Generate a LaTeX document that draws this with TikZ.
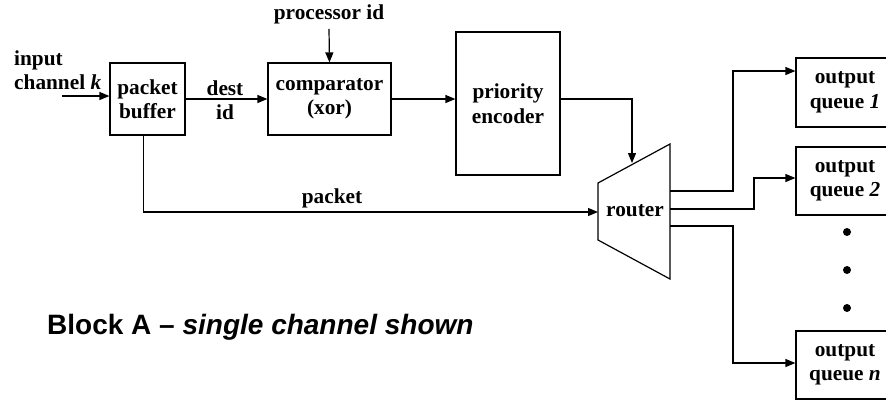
\documentclass[tikz,border=0pt]{standalone}
\usepackage{fontspec}
\setmainfont{Liberation Serif}
\setsansfont{Liberation Sans}
\usetikzlibrary{arrows.meta}
\begin{document}
\begin{tikzpicture}[x=1pt,y=-1pt,
  every node/.style={font=\fontsize{21.3}{24.5}\selectfont\bfseries},
  blk/.style={draw,line width=1.2pt,inner sep=0pt,align=center},
  lbl/.style={inner sep=0pt,align=center},
  arr/.style={line width=1.2pt,-{Triangle[length=10pt,width=8pt]}},
  ln/.style={line width=1.2pt}]
\useasboundingbox (0,0) rectangle (886,400);
\begin{scope}
\clip (0,0) rectangle (886,400);
% blocks
\node[blk,minimum width=75pt,minimum height=72pt] (pb) at (147.5,99) {packet\\buffer};
\node[blk,minimum width=123pt,minimum height=72pt] (comp) at (329.5,99) {comparator\\(xor)};
\node[blk,minimum width=104pt,minimum height=143pt] (prio) at (508,103.5) {priority\\encoder};
\node[blk,minimum width=98pt,minimum height=69pt] (q1) at (845,92.5) {output\\queue \textit{1}};
\node[blk,minimum width=98pt,minimum height=68pt] (q2) at (845,181) {output\\queue \textit{2}};
\node[blk,minimum width=98pt,minimum height=68pt] (qn) at (845,365) {output\\queue \textit{n}};
% router
\coordinate (r1) at (598,183);
\coordinate (r2) at (670,144);
\coordinate (r3) at (670,279);
\coordinate (r4) at (598,240);
\draw[ln] (r1) -- (r2) -- (r3) -- (r4) -- cycle;
\node[lbl] (router) at (635,211) {router};
\coordinate (rin) at (598,212);
\coordinate (rtop) at (632,163);
\coordinate (ro1) at (670,191);
\coordinate (ro2) at (670,209);
\coordinate (ro3) at (670,226);
% labels
\node[lbl,anchor=west,align=left] (inlbl) at (14,70) {input\\channel \textit{k}};
\coordinate (inp) at (62,96);
\node[lbl] (procid) at (329,14) {processor id};
\node[lbl] (dest) at (225,100) {dest\\id};
\node[lbl] (pkt) at (332,198) {packet};
% dots
\fill (847,232) circle (4);
\fill (847,270) circle (4);
\fill (847,308) circle (4);
% connectors
\draw[arr] (inp) -- (inp -| pb.west);
\draw[arr] (pb.east) -- (comp.west);
\draw[arr] (procid.south) ++(0,5) -- (comp.north);
\draw[arr] (comp.east) -- (comp.east -| prio.west);
\draw[arr] (comp.east -| prio.east) -| (rtop);
\draw[arr] ([xshift=-4pt]pb.south) |- (rin);
\draw[arr] (ro1) -- ++(63,0) |- ([yshift=21.5pt]q1.west);
\draw[arr] (ro2) -- ++(84,0) |- ([yshift=3pt]q2.west);
\draw[arr] (ro3) -- ++(63,0) |- ([yshift=2pt]qn.west);
\end{scope}
% caption
\node[lbl,anchor=west,font=\fontsize{28}{32}\sffamily\bfseries] (cap) at (47,327) {Block A -- \textit{single channel shown}};
\end{tikzpicture}
\end{document}
